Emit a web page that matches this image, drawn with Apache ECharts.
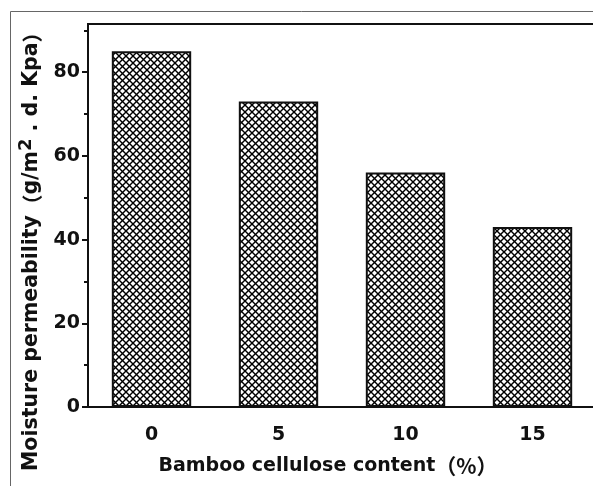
<!DOCTYPE html>
<html>
<head>
<meta charset="utf-8">
<script src="https://cdn.jsdelivr.net/npm/echarts@6/dist/echarts.min.js"></script>
<style>
  html, body { margin: 0; padding: 0; background: #fff; }
  #chart { width: 593px; height: 486px; }
</style>
</head>
<body>
<div id="chart"></div>
<script>
// Bamboo cellulose content (%) vs. moisture permeability
const categories = ['0', '5', '10', '15'];
const permeability = [85, 73, 56, 43];
const majorTicks = [0, 20, 40, 60, 80];
const minorTicks = [10, 30, 50, 70, 90];

// Cross-hatch fill tile
function hatchTile() {
  const s = 7;
  const c = document.createElement('canvas');
  c.width = s; c.height = s;
  const g = c.getContext('2d');
  g.fillStyle = '#fff';
  g.fillRect(0, 0, s, s);
  g.strokeStyle = '#000';
  g.lineWidth = 1.4;
  for (const o of [-s, 0, s]) {
    g.beginPath(); g.moveTo(o, 0); g.lineTo(o + s, s); g.stroke();
    g.beginPath(); g.moveTo(o, s); g.lineTo(o + s, 0); g.stroke();
  }
  return c;
}

const font = '"DejaVu Sans", Arial, sans-serif';
const cjk = '"Noto Sans CJK SC", sans-serif';
const fs = 19;
const ink = '#111';
const chart = echarts.init(document.getElementById('chart'), null, { renderer: 'canvas' });

chart.setOption({
  animation: false,
  backgroundColor: '#fff',
  graphic: [
    { type: 'line', shape: { x1: 10.5, y1: 11.5, x2: 593, y2: 11.5 }, style: { stroke: '#666', lineWidth: 1 } },
    { type: 'line', shape: { x1: 10.5, y1: 11.5, x2: 10.5, y2: 486 }, style: { stroke: '#666', lineWidth: 1 } }
  ],
  grid: {
    left: 88, width: 508, top: 24, height: 383,
    outerBoundsMode: 'none',
    show: true, borderColor: ink, borderWidth: 2, backgroundColor: 'transparent'
  },
  xAxis: {
    type: 'category',
    data: categories,
    axisLine: { lineStyle: { color: ink, width: 2 } },
    axisTick: { show: false },
    axisLabel: { color: ink, fontFamily: font, fontWeight: 'bold', fontSize: fs, margin: 19 },
    name: '{t|Bamboo cellulose content}{p|（%）}',
    nameLocation: 'middle',
    nameGap: 49,
    nameTextStyle: {
      padding: [0, 28, 0, 0],
      rich: {
        t: { color: ink, fontFamily: font, fontWeight: 'bold', fontSize: fs },
        p: { color: ink, fontFamily: cjk, fontWeight: 'bold', fontSize: 21 }
      }
    }
  },
  yAxis: [
    {
      type: 'value', min: 0, max: 91.5,
      axisLine: { show: true, lineStyle: { color: ink, width: 2 } },
      axisTick: { show: true, customValues: majorTicks, length: 6, lineStyle: { color: ink, width: 2 } },
      axisLabel: { customValues: majorTicks, color: ink, fontFamily: font, fontWeight: 'bold', fontSize: fs, margin: 8 },
      splitLine: { show: false },
      name: '{t|Moisture permeability}{p|（}{t|g/m}{s|2}{t| . d. Kpa}{p|）}',
      nameLocation: 'middle',
      nameGap: 40,
      nameTextStyle: {
        padding: [0, 62, 0, 0],
        rich: {
          t: { color: ink, fontFamily: font, fontWeight: 'bold', fontSize: 20.5, lineHeight: 25, verticalAlign: 'bottom' },
          p: { color: ink, fontFamily: cjk, fontWeight: 'bold', fontSize: 20.5, lineHeight: 25, verticalAlign: 'bottom' },
          s: { color: ink, fontFamily: font, fontWeight: 'bold', fontSize: 18, lineHeight: 25, verticalAlign: 'top' }
        }
      }
    },
    {
      type: 'value', min: 0, max: 91.5, position: 'left',
      axisLine: { show: false },
      axisTick: { show: true, customValues: minorTicks, length: 4, lineStyle: { color: ink, width: 2 } },
      axisLabel: { show: false },
      splitLine: { show: false }
    }
  ],
  series: [{
    type: 'bar',
    data: permeability,
    barWidth: '62.5%',
    itemStyle: {
      color: { image: hatchTile(), repeat: 'repeat' },
      borderColor: ink,
      borderWidth: 2
    }
  }]
});
</script>
</body>
</html>
